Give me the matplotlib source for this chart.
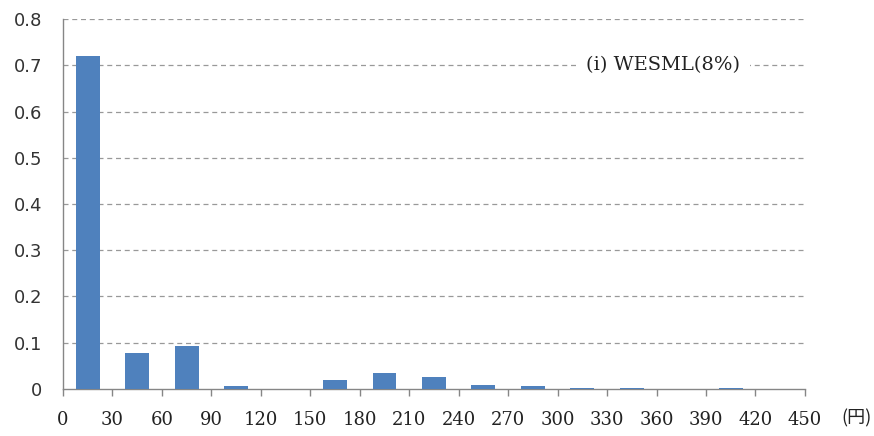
import numpy as np
import matplotlib.pyplot as plt

# bins of 30 yen, value = share of each bin
bin_left = [0, 30, 60, 90, 120, 150, 180, 210, 240, 270, 300, 330, 360, 390, 420]
share = [0.720, 0.078, 0.092, 0.006, 0.0, 0.020, 0.034, 0.026,
         0.009, 0.006, 0.003, 0.003, 0.0, 0.003, 0.0]
xticks = list(range(0, 451, 30))
yticks = [0, 0.1, 0.2, 0.3, 0.4, 0.5, 0.6, 0.7, 0.8]
label = "(i) WESML(8%)"

plt.rcParams['font.family'] = ['DejaVu Serif', 'Noto Sans CJK JP']

fig = plt.figure(figsize=(8.74, 4.36), dpi=100)
ax = fig.add_axes([0.072, 0.108, 0.849, 0.848])

centers = np.array(bin_left) + 15
ax.bar(centers, share, width=14.5, color='#4F81BD', linewidth=0, zorder=3)

ax.set_xlim(0, 450)
ax.set_ylim(0, 0.8)
ax.set_xticks(xticks)
ax.set_yticks(yticks)
ax.set_yticklabels(['0'] + [f"{v:.1f}" for v in yticks[1:]], family=['DejaVu Sans'])
ax.tick_params(axis='y', length=0, pad=15, labelsize=13, labelcolor='#333333')
ax.tick_params(axis='x', length=5, width=1, color='#868686', pad=11, labelsize=13,
               labelcolor='#222222', direction='out')

for s in ['top', 'right']:
    ax.spines[s].set_visible(False)
for s in ['left', 'bottom']:
    ax.spines[s].set_color('#868686')
    ax.spines[s].set_linewidth(1)

for v in yticks[1:]:
    ax.axhline(v, color='#999999', lw=0.9, ls=(0, (4, 3)), zorder=1)

ax.text(0.705, 0.875, label, transform=ax.transAxes, ha='left', va='center', fontsize=14,
        color='#222222', bbox=dict(facecolor='white', edgecolor='none', pad=7), zorder=4)

fig.text(0.98, 0.04, "(円)", ha='center', va='center', fontsize=13,
         family=['Noto Sans CJK JP'], color='#222222')

fig.savefig("out.png", dpi=100)
